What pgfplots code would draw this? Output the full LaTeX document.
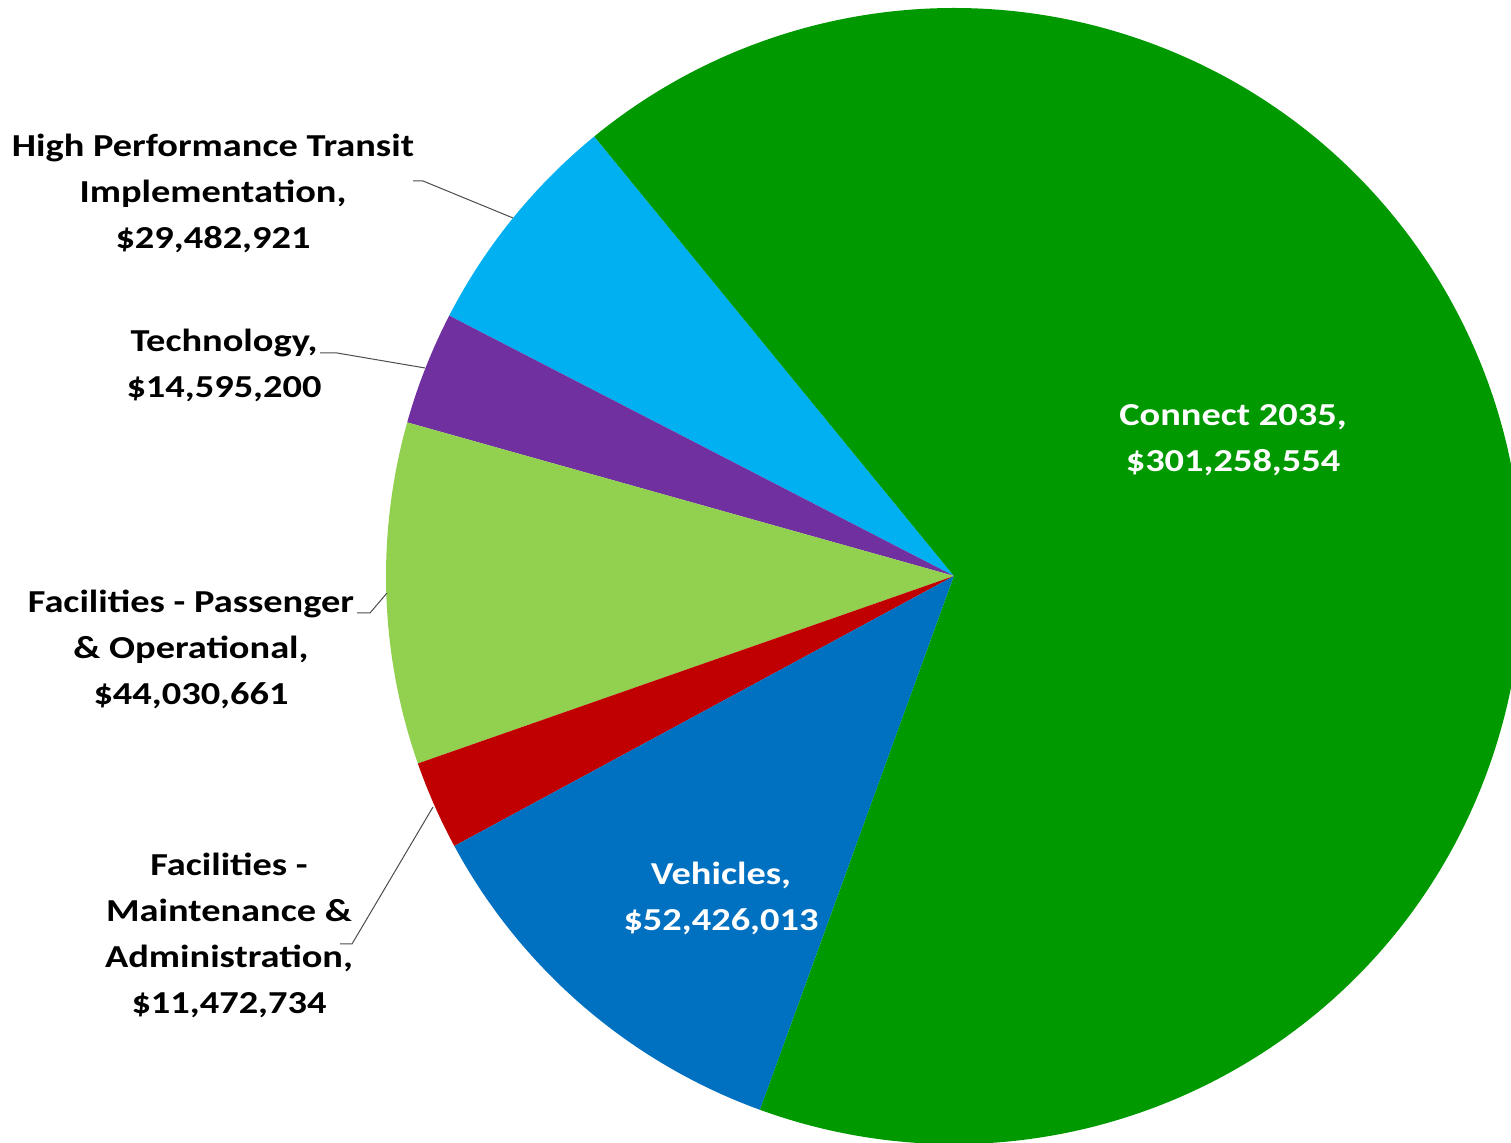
\documentclass[border=0pt]{standalone}
\usepackage{pgfplots}
\pgfplotsset{compat=1.18}
\usepackage{pgfplotstable}
\usepackage{fontspec}
\setmainfont{Carlito}[FakeStretch=1.2]

\definecolor{slice0}{HTML}{00B0F0}% High Performance Transit
\definecolor{slice1}{HTML}{7030A0}% Technology
\definecolor{slice2}{HTML}{92D050}% Facilities - Passenger
\definecolor{slice3}{HTML}{C00000}% Facilities - Maintenance
\definecolor{slice4}{HTML}{0070C0}% Vehicles
\definecolor{slice5}{HTML}{009900}% Connect 2035

% values in millions of dollars, counter-clockwise from the top-left edge
\pgfplotstableread{
label value
HPT   29.482921
Tech  14.595200
FacP  44.030661
FacM  11.472734
Veh   52.426013
Conn  301.258554
}\piedata

\begin{document}
\begin{tikzpicture}
\useasboundingbox (0,0) rectangle (755.5pt,571.5pt);

% cumulative angles
\xdef\total{0}
\pgfplotsforeachungrouped \i in {0,...,5}{%
  \pgfplotstablegetelem{\i}{value}\of\piedata
  \pgfmathsetmacro\t{\total+\pgfplotsretval}\xdef\total{\t}}
\def\startang{129.3}
\xdef\cum{0}
\pgfplotsforeachungrouped \i in {0,...,5}{%
  \pgfmathsetmacro\s{\startang+360*(\cum/\total)}
  \expandafter\xdef\csname a\i\endcsname{\s}
  \pgfplotstablegetelem{\i}{value}\of\piedata
  \pgfmathsetmacro\t{\cum+\pgfplotsretval}\xdef\cum{\t}
  \pgfmathsetmacro\s{\startang+360*(\cum/\total)}
  \expandafter\xdef\csname e\i\endcsname{\s}}

\begin{axis}[
    at={(0,0)}, anchor=origin,
    scale only axis,
    width=755.5pt, height=571.5pt,
    xmin=0, xmax=1511, ymin=0, ymax=1143,
    hide axis,
]
\pgfplotsinvokeforeach{0,...,5}{
  \fill[slice#1] (axis cs:954,567) -- ++(\csname a#1\endcsname:284pt)
    arc[start angle=\csname a#1\endcsname, end angle=\csname e#1\endcsname, radius=284pt] -- cycle;
}

% leader lines
\draw[black!70, line width=0.5pt] (axis cs:413,962) -- (axis cs:423,962) -- (axis cs:513,925);
\draw[black!70, line width=0.5pt] (axis cs:320,790) -- (axis cs:337,790) -- (axis cs:425,775);
\draw[black!70, line width=0.5pt] (axis cs:357,530) -- (axis cs:370,530) -- (axis cs:387,550);
\draw[black!70, line width=0.5pt] (axis cs:340,199) -- (axis cs:352,199) -- (axis cs:433,336);

\tikzset{lbl/.style={align=center, inner sep=0pt, font=\fontsize{16}{23}\selectfont\bfseries}}
\node[lbl] at (axis cs:213,950) {High Performance Transit\\Implementation,\\\$29,482,921};
\node[lbl] at (axis cs:224,778) {Technology,\\\$14,595,200};
\node[lbl] at (axis cs:191,494) {Facilities - Passenger\\\& Operational,\\\$44,030,661};
\node[lbl] at (axis cs:229,208) {Facilities -\\Maintenance \&\\Administration,\\\$11,472,734};
\node[lbl, text=white] at (axis cs:1233,703) {Connect 2035,\\\$301,258,554};
\node[lbl, text=white] at (axis cs:721,245) {Vehicles,\\\$52,426,013};
\end{axis}
\end{tikzpicture}
\end{document}
